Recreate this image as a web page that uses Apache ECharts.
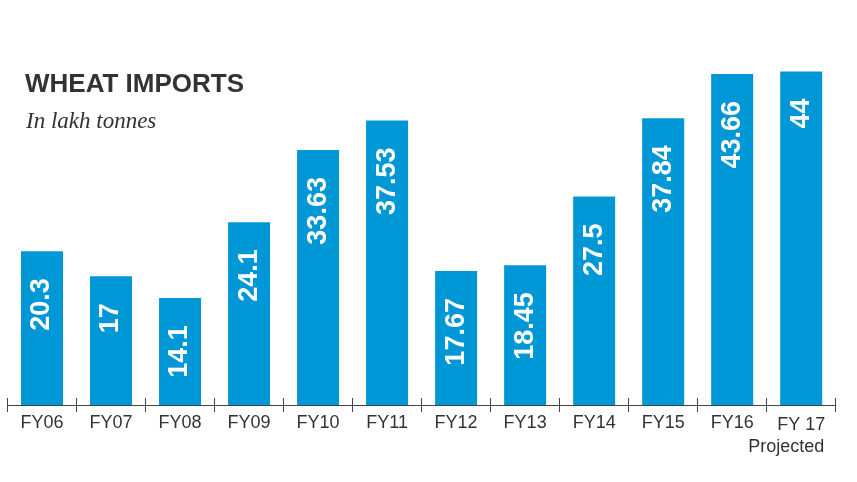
<!DOCTYPE html>
<html>
<head>
<meta charset="utf-8">
<script src="https://cdn.jsdelivr.net/npm/echarts@6/dist/echarts.min.js"></script>
<style>
  html, body { margin: 0; padding: 0; background: #fff; }
  #chart { width: 857px; height: 482px; }
</style>
</head>
<body>
<div id="chart"></div>
<script>
// data
const years = ['FY06', 'FY07', 'FY08', 'FY09', 'FY10', 'FY11', 'FY12', 'FY13', 'FY14', 'FY15', 'FY16', 'FY 17'];
const imports = [20.3, 17, 14.1, 24.1, 33.63, 37.53, 17.67, 18.45, 27.5, 37.84, 43.66, 44];
const lastNote = 'Projected';

// no condensed face in the sandbox, Liberation Sans is the narrowest we have
const sans = "'Liberation Sans', Arial, sans-serif";
const blue = '#0097d7';
const ink = '#333333';

const chart = echarts.init(document.getElementById('chart'));

chart.setOption({
  animation: false,
  title: [{
    text: 'WHEAT IMPORTS',
    left: 20,
    top: 67,
    textStyle: { fontFamily: sans, fontWeight: 'bold', fontSize: 26, color: ink }
  }, {
    text: 'In lakh tonnes',
    left: 21,
    top: 105,
    textStyle: { fontFamily: "'Liberation Serif', 'DejaVu Serif', serif", fontStyle: 'italic', fontWeight: 'normal', fontSize: 23, color: ink }
  }],
  grid: { left: 7.5, right: 16, top: 26, bottom: 77 },
  xAxis: [{
    type: 'category',
    data: years,
    axisLine: { lineStyle: { color: '#444', width: 1.2 } },
    axisTick: { show: true, length: 7, lineStyle: { color: '#444' } },
    axisLabel: {
      interval: 0,
      margin: 9,
      color: ink,
      fontFamily: sans,
      fontSize: 18,
      formatter: (v, i) => i === years.length - 1 ? '{f|' + v + '}\n{p|' + lastNote + '}' : v,
      rich: {
        f: { fontFamily: sans, fontSize: 18, color: ink, align: 'center', lineHeight: 22 },
        p: { fontFamily: sans, fontSize: 18, color: ink, align: 'left', padding: [0, 30, 0, 0], lineHeight: 22 }
      }
    }
  }, {
    // second axis only to get the upper half of each tick
    type: 'category',
    data: years,
    position: 'bottom',
    axisLine: { show: false },
    axisTick: { show: true, inside: true, length: 7, lineStyle: { color: '#444' } },
    axisLabel: { show: false }
  }],
  yAxis: {
    type: 'value',
    min: 0,
    max: 50,
    show: false,
    splitLine: { show: false }
  },
  series: [{
    type: 'bar',
    data: imports,
    barWidth: 42,
    itemStyle: { color: blue },
    label: {
      show: true,
      position: 'insideTop',
      distance: 27,
      rotate: 90,
      align: 'right',
      verticalAlign: 'middle',
      color: '#fff',
      fontFamily: sans,
      fontWeight: 'bold',
      fontSize: 27
    }
  }]
});
</script>
</body>
</html>
